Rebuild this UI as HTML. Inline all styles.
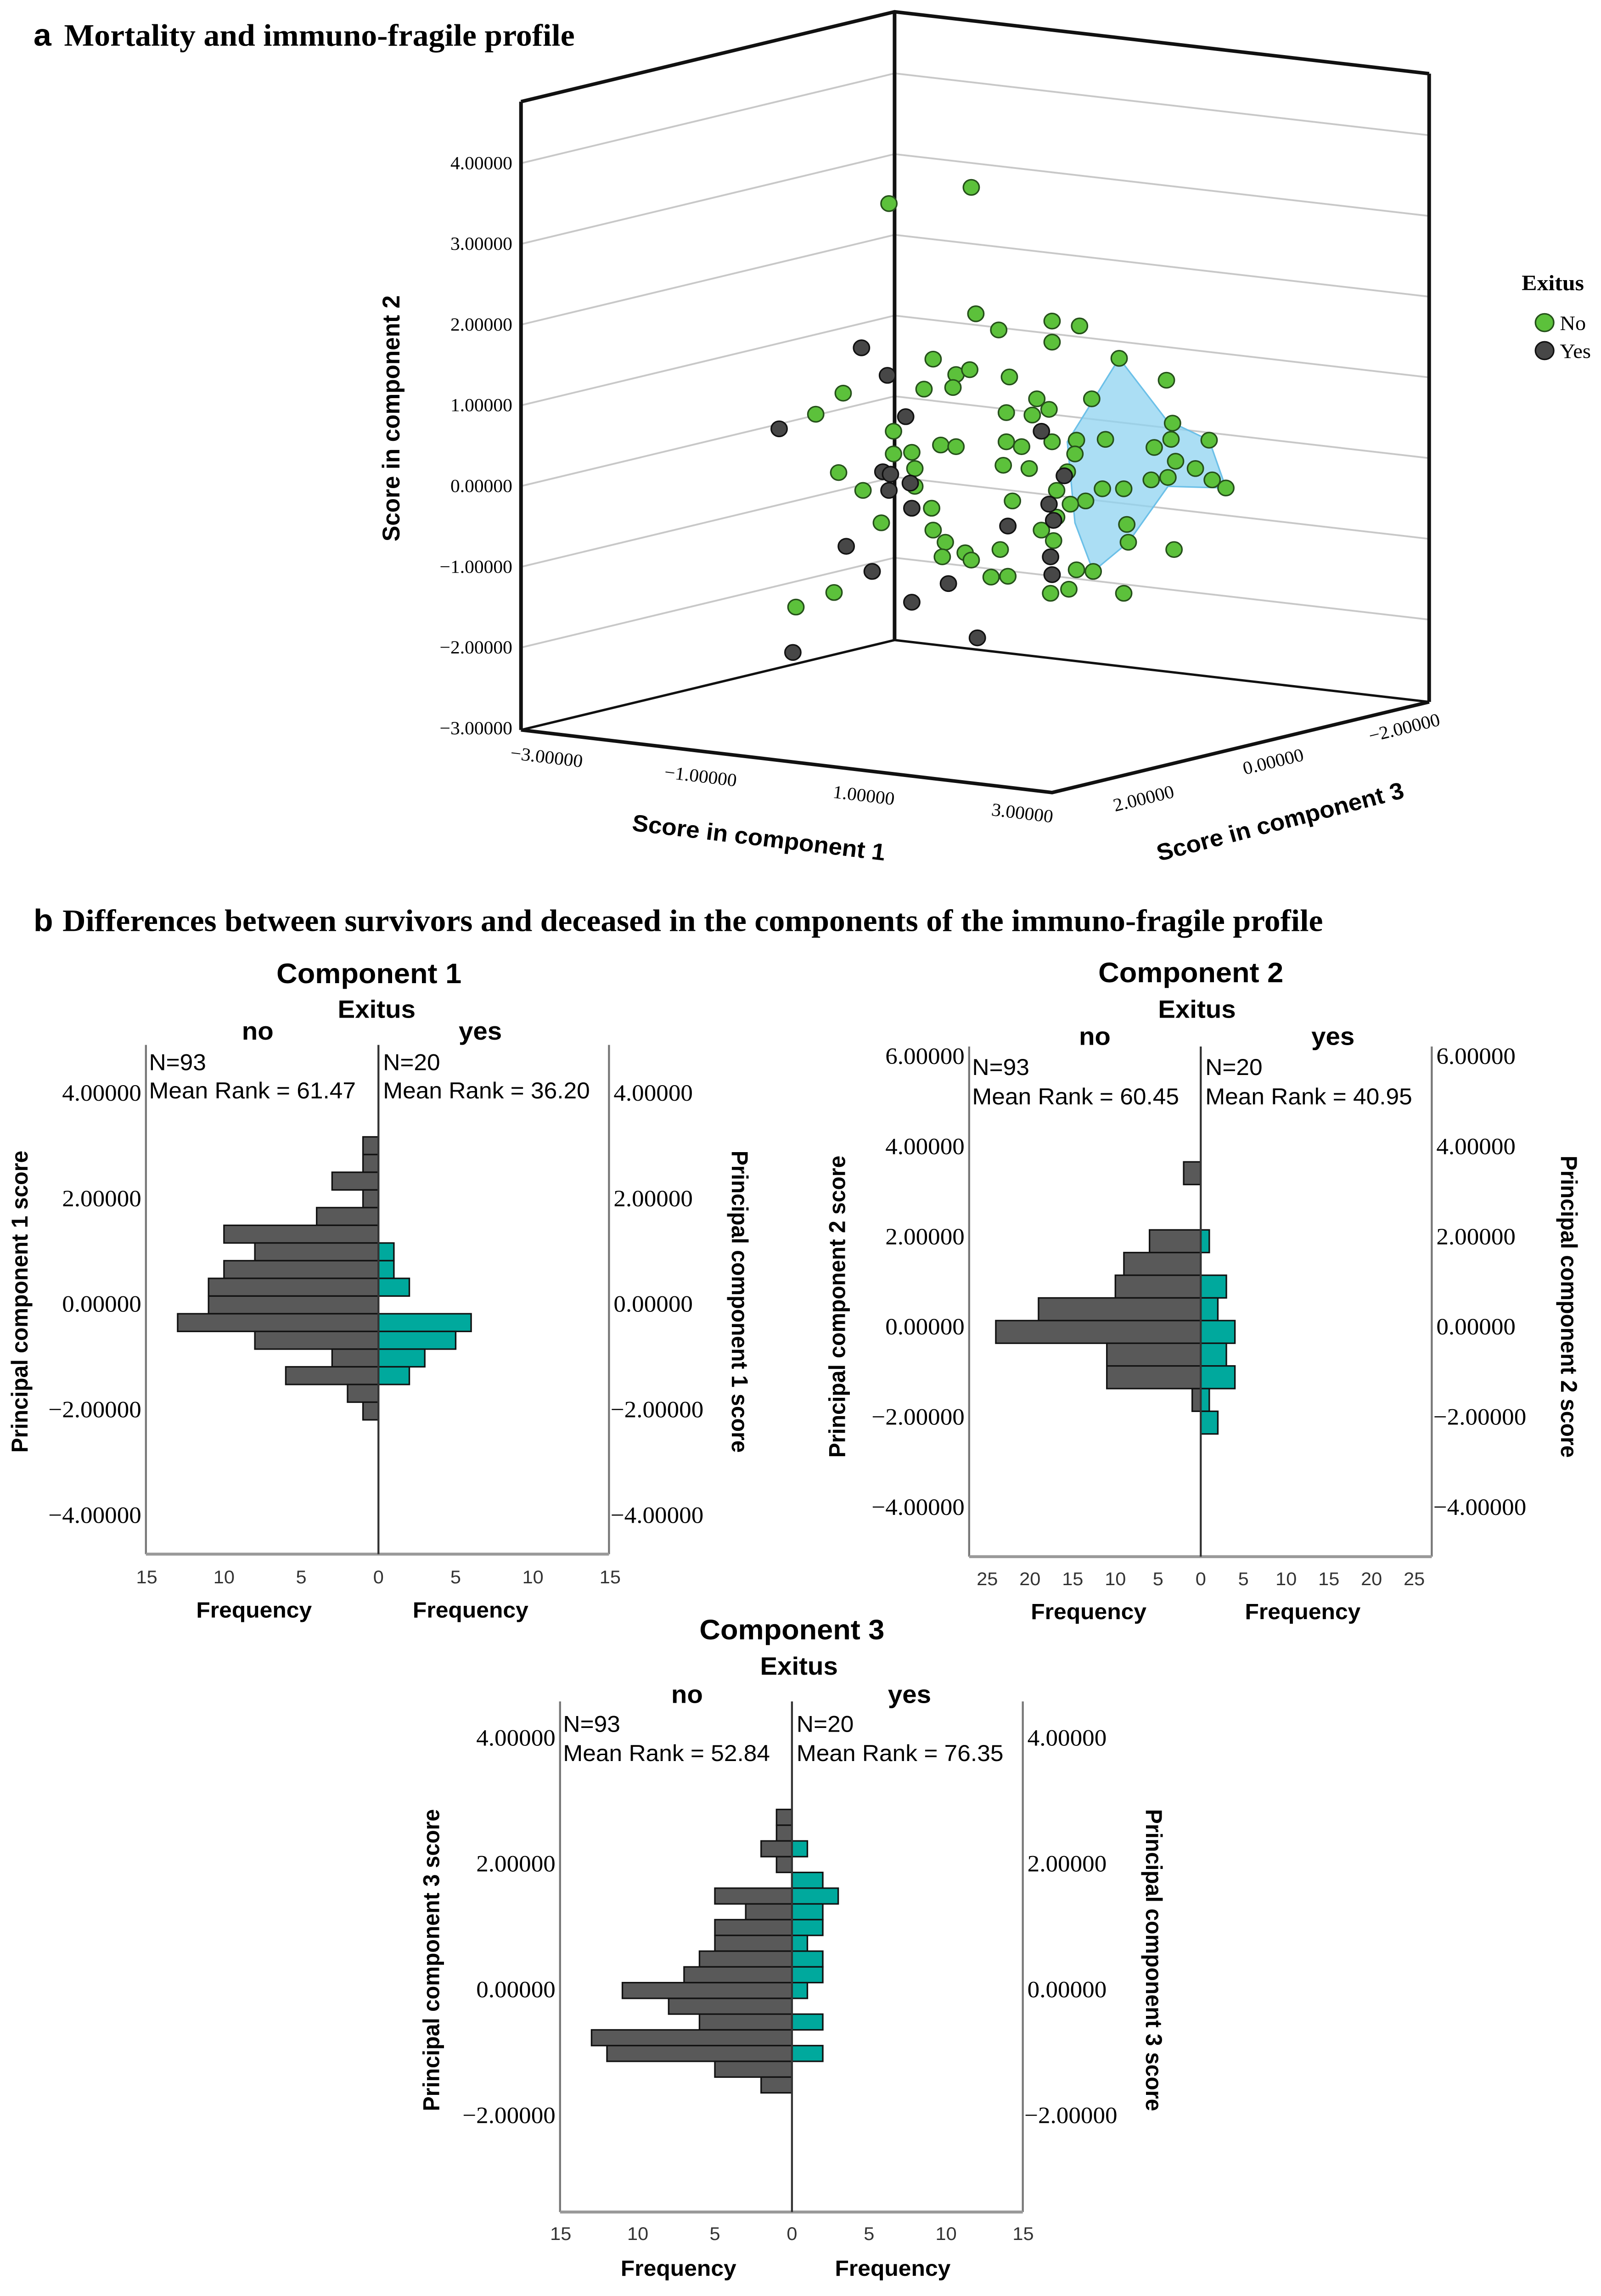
<!DOCTYPE html>
<html><head><meta charset="utf-8"><style>
html,body{margin:0;padding:0;background:#fff;width:100%;height:100%;overflow:hidden;}
svg{display:block;position:absolute;left:0;top:0;width:100vw;height:100vh;}
.serif{font-family:"Liberation Serif",serif;}
.sans{font-family:"Liberation Sans",sans-serif;}
</style></head><body>
<svg id="root" viewBox="0 0 1050 1558.6" preserveAspectRatio="none" xmlns="http://www.w3.org/2000/svg" overflow="hidden">
<rect x="0" y="0" width="1050" height="1558.6" fill="#fff"/>
<g id="panelA"></g>
<g id="panelB"></g>
</svg>
<script>
// ---------- Panel a data ----------
const greenC1 = [-0.14,0.94,1.0,1.3,2.0,2.36,2.0,0.44,0.74,0.92,0.7,-0.74,-1.1,0.32,1.44,1.8,1.4,1.96,2.88,2.52,3.5,3.58,4.06,3.56,3.34,3.62,3.88,4.1,4.28,3.52,3.3,2.94,2.66,2.7,2.32,2.44,2.98,3.0,3.6,2.94,2.54,2.32,1.74,1.4,1.6,2.0,2.3,1.36,1.7,2.06,2.2,2.24,1.86,2.02,0.54,0.74,0.16,0.2,-0.24,0.2,0.42,0.44,0.6,0.56,0.86,0.94,1.2,1.42,2.22,1.98,-0.8,-1.36,-0.86,-0.48,-0.08,-0.08,1.48,2.06,1.32];
const greenC2 = [3.56,3.76,2.2,2.0,2.11,2.05,1.85,1.64,1.45,1.51,1.29,1.22,0.96,1.27,1.42,1.15,0.98,1.02,1.65,1.15,1.38,0.85,0.64,0.65,0.55,0.38,0.29,0.15,0.05,0.18,0.15,0.04,0.04,0.65,0.64,-0.11,-0.4,-0.62,-0.71,-1.25,-0.98,-0.96,0.95,0.62,0.56,0.62,0.47,0.33,0.29,0.02,0.25,-0.15,-0.47,-0.6,0.58,0.56,0.49,0.29,-0.38,0.07,-0.2,-0.47,-0.62,-0.8,-0.75,-0.84,-1.05,-1.04,-1.2,-1.25,0.24,-1.42,-1.24,0.02,0.75,0.47,-0.11,-0.31,-0.71];
const blackC1 = [-0.5,-0.16,0.08,-1.58,1.86,-0.22,-0.14,-0.12,0.14,0.16,-0.7,-0.36,1.42,1.96,2.02,1.98,2.0,0.64,0.16,1.02,-1.4,2.16];
const blackC2 = [1.78,1.44,0.93,0.78,0.75,0.25,0.02,0.22,0.11,-0.2,-0.67,-0.98,-0.42,-0.15,-0.35,-0.8,-1.02,-1.13,-1.36,-1.8,-1.98,0.2];
const hullC1 = [2.88,3.5,4.06,4.28,3.52,3.0,2.54,2.3,2.2];
const hullC2 = [1.65,0.89,0.64,0.05,0.07,-0.62,-0.98,-0.38,0.62];
const yTicks3d = [4,3,2,1,0,-1,-2,-3];
const c1Ticks = ["-3.00000","-1.00000","1.00000","3.00000"];
const c3Ticks = ["-2.00000","0.00000","2.00000"];

// ---------- Panel b data ----------
const h1No  = [1,1,3,1,4,10,8,10,11,11,13,8,3,6,2,1];
const h1Yes = [0,0,0,0,0,0,1,1,2,0,6,5,3,2,0,0];
const h2No  = [2,0,0,6,9,10,19,24,11,11,1,0];
const h2Yes = [0,0,0,1,0,3,2,4,3,4,1,2];
const h3No  = [1,1,2,1,0,5,3,5,5,6,7,11,8,6,13,12,5,2];
const h3Yes = [0,0,1,0,2,3,2,2,1,2,2,1,0,2,0,2,0,0];
const h1YTicks = [4,2,0,-2,-4];
const h2YTicks = [6,4,2,0,-2,-4];
const h3YTicks = [4,2,0,-2];
const h1XTicks = [15,10,5,0,5,10,15];
const h2XTicks = [25,20,15,10,5,0,5,10,15,20,25];
const h3XTicks = [15,10,5,0,5,10,15];

const NS = "http://www.w3.org/2000/svg";
function mk(parent, tag, attrs, text){
  const e = document.createElementNS(NS, tag);
  for (const k in attrs) e.setAttribute(k, attrs[k]);
  if (text !== undefined) e.textContent = text;
  parent.appendChild(e);
  return e;
}
const A = document.getElementById('panelA');
const B = document.getElementById('panelB');

let t = mk(A,'text',{x:22,y:31,'font-size':21,'font-weight':'bold',class:'sans'},'a');


t = mk(A,'text',{x:42,y:31,'font-size':21,'font-weight':'bold',class:'serif'},'Mortality and immuno-fragile profile');


t = mk(B,'text',{x:22,y:632,'font-size':21,'font-weight':'bold',class:'sans'},'b');


t = mk(B,'text',{x:41,y:632,'font-size':21,'font-weight':'bold',class:'serif'},'Differences between survivors and deceased in the components of the  immuno-fragile profile');



// ---------- 3D box ----------
const xS = u => 590 + u*50;
const yS = v => 334 - v*55;
const tickY = v => 330 - v*54.8;
const XL=341.7, XB=586.7, XR=937.3, OFFB=-61, OFFR=-19;
const grid = mk(A,'g',{});


yTicks3d.forEach(v=>{
  const yl = tickY(v);
  if (v > -3) {
    const gl = mk(grid,'polyline',{points:`${XL},${yl} ${XB},${yl+OFFB} ${XR},${yl+OFFR}`,fill:'none',stroke:'#c8c8c8','stroke-width':1.2});
    
    
  }
  const tl = mk(A,'text',{x:336,y:yl+4,'font-size':12.5,'text-anchor':'end',class:'serif'},(v<0?'\u2212':'')+Math.abs(v).toFixed(5));
  
  
});
const topL=69, botL=495.5;
const box = mk(A,'g',{fill:'none',stroke:'#111','stroke-width':2.4});


mk(box,'polyline',{points:`${XL},${topL} ${XB},${topL+OFFB} ${XR},${topL+OFFR}`});
mk(box,'line',{x1:XL,y1:topL,x2:XL,y2:botL});
mk(box,'line',{x1:XB,y1:topL+OFFB,x2:XB,y2:botL+OFFB});
mk(box,'line',{x1:XR,y1:topL+OFFR,x2:XR,y2:botL+OFFR});
mk(box,'polyline',{points:`${XL},${botL} ${XB},${botL+OFFB} ${XR},${botL+OFFR}`,'stroke-width':1.6});
mk(box,'polyline',{points:`${XL},${botL} 690,538 ${XR},${botL+OFFR}`});

const hp = hullC1.map((u,i)=>`${xS(u)},${yS(hullC2[i])}`).join(' ');
const hull = mk(A,'polygon',{points:hp,fill:'#8fd3f0','fill-opacity':0.75,stroke:'#6cc0e8','stroke-width':1});



greenC1.forEach((u,i)=>{
  const c = mk(A,'circle',{cx:xS(u),cy:yS(greenC2[i]),r:5.2,fill:'#5cc13b',stroke:'#25501a','stroke-width':1});
  
  
});
blackC1.forEach((u,i)=>{
  const c = mk(A,'circle',{cx:xS(u),cy:yS(blackC2[i]),r:5.2,fill:'#474747',stroke:'#111','stroke-width':1});
  
  
});

const c1Pos = [[358,518],[459,531],[566,544],[670,556]];
c1Ticks.forEach((s,i)=>{
  const p=c1Pos[i];
  const e = mk(A,'text',{x:p[0],y:p[1],'font-size':12.5,'text-anchor':'middle',class:'serif',transform:`rotate(7 ${p[0]} ${p[1]})`},s.replace('-','\u2212'));
  
  
});
const c3Pos = [[922,498],[836,521],[751,546]];
c3Ticks.forEach((s,i)=>{
  const p=c3Pos[i];
  const e = mk(A,'text',{x:p[0],y:p[1],'font-size':12.5,'text-anchor':'middle',class:'serif',transform:`rotate(-14 ${p[0]} ${p[1]})`},s.replace('-','\u2212'));
  
  
});
t = mk(A,'text',{x:497,y:574,'font-size':16,'font-weight':'900',class:'sans','text-anchor':'middle',transform:'rotate(7 497 574)'},'Score in component 1');


t = mk(A,'text',{x:841,y:563,'font-size':16,'font-weight':'900',class:'sans','text-anchor':'middle',transform:'rotate(-15 841 563)'},'Score in component 3');


t = mk(A,'text',{x:262,y:284,'font-size':16,'font-weight':'900',class:'sans','text-anchor':'middle',transform:'rotate(-90 262 284)'},'Score in component 2');



const lg = mk(A,'g',{});


t = mk(lg,'text',{x:998,y:197,'font-size':15,'font-weight':'bold',class:'serif'},'Exitus');


let lc = mk(lg,'circle',{cx:1013,cy:219,r:6,fill:'#5cc13b',stroke:'#25501a'});


t = mk(lg,'text',{x:1023,y:224,'font-size':14,class:'serif'},'No');


lc = mk(lg,'circle',{cx:1013,cy:238,r:6,fill:'#474747',stroke:'#111'});


t = mk(lg,'text',{x:1023,y:243,'font-size':14,class:'serif'},'Yes');



// ---------- Histograms ----------
function hist(cfg, noC, yesC, yTicks, xTicks){
  const g = mk(B,'g',{});
  
  
  const yOf = v => cfg.y0 - v*cfg.pu;
  const xOf = c => c*cfg.px;
  const fr = mk(g,'g',{stroke:'#777','stroke-width':1.3,fill:'none'});
  mk(fr,'line',{x1:cfg.L,y1:cfg.T,x2:cfg.L,y2:cfg.Bt});
  mk(fr,'line',{x1:cfg.R,y1:cfg.T,x2:cfg.R,y2:cfg.Bt});
  mk(fr,'line',{x1:cfg.L,y1:cfg.Bt,x2:cfg.R,y2:cfg.Bt,'stroke-width':2,stroke:'#999'});
  const bh = cfg.bin*cfg.pu;
  noC.forEach((c,i)=>{
    if(!c) return;
    const y = yOf(cfg.top - i*cfg.bin);
    const r = mk(g,'rect',{x:cfg.C-xOf(c),y:y,width:xOf(c),height:bh,fill:'#595959',stroke:'#111','stroke-width':1});
    
    
  });
  yesC.forEach((c,i)=>{
    if(!c) return;
    const y = yOf(cfg.top - i*cfg.bin);
    const r = mk(g,'rect',{x:cfg.C,y:y,width:xOf(c),height:bh,fill:'#00a99d',stroke:'#111','stroke-width':1});
    
    
  });
  mk(g,'line',{x1:cfg.C,y1:cfg.T,x2:cfg.C,y2:cfg.Bt,stroke:'#333','stroke-width':1.3});
  yTicks.forEach(v=>{
    const s=(v<0?'\u2212':'')+Math.abs(v).toFixed(5);
    let e = mk(g,'text',{x:cfg.L-3,y:yOf(v)+5.5,'font-size':16,'text-anchor':'end',class:'serif'},s);
    
    
    e = mk(g,'text',{x:cfg.R+(v<0?1:3),y:yOf(v)+5.5,'font-size':16,class:'serif'},s);
    
    
  });
  const n = xTicks.length, mid=(n-1)/2;
  xTicks.forEach((v,i)=>{
    const x = cfg.C + (i<mid? -xOf(v) : xOf(v));
    const e = mk(g,'text',{x:x,y:cfg.tickY+4.5,'font-size':12.5,'text-anchor':'middle',class:'sans',fill:'#333'},String(v));
    
    
  });
  const T = (x,y,s,fs,w,nm,extra)=>{ const e=mk(g,'text',Object.assign({x:x,y:y,'font-size':fs,'font-weight':w,class:'sans','text-anchor':'middle'},extra||{}),s);   return e; };
  T(cfg.titleX,cfg.titleY+7,cfg.title,19,'bold','chart-title');
  T(cfg.exX,cfg.exY+6,'Exitus',17,'bold','group-title');
  T(cfg.noX,cfg.gY+6,'no',17,'bold','group-no-label');
  T(cfg.yesX,cfg.gY+6,'yes',17,'bold','group-yes-label');
  T(cfg.f1X,cfg.fY+5.5,'Frequency',15,'bold','x-axis-title-no');
  T(cfg.f2X,cfg.fY+5.5,'Frequency',15,'bold','x-axis-title-yes');
  const my=cfg.ytY;
  T(cfg.yl+5,my,cfg.ytitle,15,'bold','y-axis-title-left',{transform:`rotate(-90 ${cfg.yl+5} ${my})`});
  T(cfg.yr-5,my,cfg.ytitle,15,'bold','y-axis-title-right',{transform:`rotate(90 ${cfg.yr-5} ${my})`});
  const S=(x,y,s,nm)=>{ const e=mk(g,'text',{x:x,y:y,'font-size':15.5,class:'sans'},s);   };
  S(cfg.L+2,cfg.nY+5.5,'N=93','n-no');
  S(cfg.L+2,cfg.mY+5.5,'Mean Rank = '+cfg.mrNo,'mean-rank-no');
  S(cfg.C+3,cfg.nY+5.5,'N=20','n-yes');
  S(cfg.C+3,cfg.mY+5.5,'Mean Rank = '+cfg.mrYes,'mean-rank-yes');
}
hist({name:'histogram-component-1',title:'Component 1',L:95.7,R:399.4,C:248.2,T:709.3,Bt:1055,y0:885,pu:35.84,px:10.13,top:3.16,bin:0.335,
  titleX:242,titleY:660.4,exX:247,exY:684.9,noX:169,yesX:315,gY:699.8,nY:720.9,mY:740.2,tickY:1070.3,fY:1092.5,f1X:166.6,f2X:308.6,
  ytitle:'Principal component 1 score',yl:13,yr:485,ytY:883.6,mrNo:'61.47',mrYes:'36.20'}, h1No,h1Yes,h1YTicks,h1XTicks);
hist({name:'histogram-component-2',title:'Component 2',L:635.6,R:939,C:787.5,T:710.4,Bt:1056.7,y0:900.4,pu:30.6,px:5.6,top:3.65,bin:0.503,
  titleX:781,titleY:659.7,exX:785,exY:685,noX:718,yesX:874.2,gY:703.3,nY:724.2,mY:744.2,tickY:1071.5,fY:1093.6,f1X:714,f2X:854.4,
  ytitle:'Principal component 2 score',yl:549.2,yr:1028.8,ytY:887,mrNo:'60.45',mrYes:'40.95'}, h2No,h2Yes,h2YTicks,h2XTicks);
hist({name:'histogram-component-3',title:'Component 3',L:367.3,R:670.8,C:519.4,T:1155,Bt:1501.6,y0:1350.3,pu:42.7,px:10.11,top:2.857,bin:0.2503,
  titleX:519.4,titleY:1105.8,exX:524,exY:1130.9,noX:450.6,yesX:596.5,gY:1150,nY:1170.2,mY:1189.9,tickY:1516,fY:1539.4,f1X:445,f2X:585.5,
  ytitle:'Principal component 3 score',yl:283,yr:756.6,ytY:1330.6,mrNo:'52.84',mrYes:'76.35'}, h3No,h3Yes,h3YTicks,h3XTicks);
</script>
</body></html>
